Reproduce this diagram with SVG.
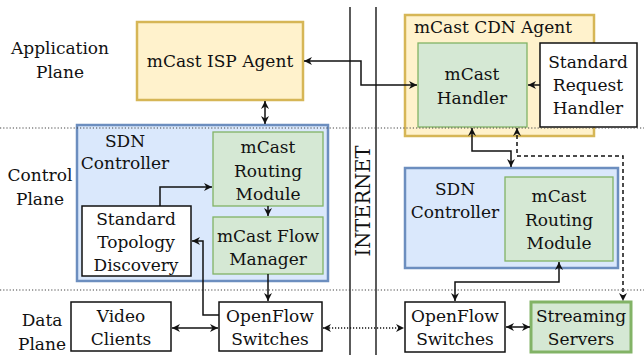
<svg xmlns="http://www.w3.org/2000/svg" width="644" height="358" viewBox="0 0 644 358">
<style>
text{font-family:"DejaVu Serif","Liberation Serif",serif;font-size:17px;fill:#111;text-anchor:middle;dominant-baseline:central}
.yel{fill:#fff2cc;stroke:#d6b656;stroke-width:2.5}
.blu{fill:#dae8fc;stroke:#6c8ebf;stroke-width:2.5}
.grn{fill:#d5e8d4;stroke:#82b366;stroke-width:1.3}
.grn2{fill:#d5e8d4;stroke:#82b366;stroke-width:3}
.wht{fill:#fff;stroke:#111;stroke-width:1.5}
.sep{stroke:#444;stroke-width:1.2;stroke-dasharray:1.2 2;fill:none}
.wall{stroke:#333;stroke-width:1.6;fill:none}
.c{stroke:#111;stroke-width:1.5;fill:none}
.cd{stroke:#111;stroke-width:1.5;fill:none;stroke-dasharray:4 3}
.cdot{stroke:#111;stroke-width:1.5;fill:none;stroke-dasharray:1.2 1.8}
</style>
<defs>
<marker id="a" viewBox="0 0 10 10" refX="10" refY="5" markerWidth="8" markerHeight="8" markerUnits="userSpaceOnUse" orient="auto-start-reverse"><path d="M0,0 L10,5 L0,10 L3,5 z" fill="#111"/></marker>
</defs>
<rect width="644" height="358" fill="#fff"/>
<g id="internet">
<line class="wall" x1="350" y1="7" x2="350" y2="355"/>
<line class="wall" x1="376" y1="7" x2="376" y2="355"/>
<text x="363" y="201" transform="rotate(-90 363 201)" style="font-size:19.5px">INTERNET</text>
</g>
<g id="labels">
<text x="60" y="48">Application</text><text x="60" y="72">Plane</text>
<text x="40" y="175">Control</text><text x="40" y="199">Plane</text>
<text x="42" y="320">Data</text><text x="42" y="344">Plane</text>
</g>
<g id="isp-agent"><rect class="yel" x="137" y="22" width="166" height="78"/><text x="220" y="61">mCast ISP Agent</text></g>
<g id="cdn-agent"><rect class="yel" x="405" y="15" width="189" height="121"/><text x="493" y="27">mCast CDN Agent</text></g>
<g id="mcast-handler"><rect class="grn" x="418" y="43" width="109" height="84"/><text x="472" y="74">mCast</text><text x="472" y="98">Handler</text></g>
<g id="std-request"><rect class="wht" x="540" y="43" width="97" height="84"/><text x="588" y="62">Standard</text><text x="588" y="85">Request</text><text x="588" y="108">Handler</text></g>
<g id="sdn-left"><rect class="blu" x="77" y="125" width="251" height="156"/><text x="125" y="141">SDN</text><text x="125" y="163">Controller</text></g>
<g id="routing-left"><rect class="grn" x="213" y="132" width="110" height="74"/><text x="268" y="147">mCast</text><text x="268" y="171">Routing</text><text x="268" y="194">Module</text></g>
<g id="flow-manager"><rect class="grn" x="213" y="217" width="110" height="57"/><text x="268" y="236">mCast Flow</text><text x="268" y="259">Manager</text></g>
<g id="topology"><rect class="wht" x="82" y="206" width="109" height="70"/><text x="136" y="219">Standard</text><text x="136" y="242">Topology</text><text x="136" y="265">Discovery</text></g>
<g id="sdn-right"><rect class="blu" x="405" y="168" width="213" height="100"/><text x="455" y="189">SDN</text><text x="455" y="212">Controller</text></g>
<g id="routing-right"><rect class="grn" x="505" y="177" width="108" height="84"/><text x="559" y="196">mCast</text><text x="559" y="220">Routing</text><text x="559" y="243">Module</text></g>
<g id="video-clients"><rect class="wht" x="71" y="302" width="100" height="49"/><text x="121" y="316">Video</text><text x="121" y="339">Clients</text></g>
<g id="ofs-left"><rect class="wht" x="219" y="302" width="103" height="49"/><text x="270" y="316">OpenFlow</text><text x="270" y="339">Switches</text></g>
<g id="ofs-right"><rect class="wht" x="405" y="302" width="100" height="50"/><text x="455" y="316">OpenFlow</text><text x="455" y="339">Switches</text></g>
<g id="streaming"><rect class="grn2" x="531" y="302" width="100" height="50"/><text x="581" y="316">Streaming</text><text x="581" y="339">Servers</text></g>
<g id="separators">
<line class="sep" x1="0" y1="128" x2="644" y2="128"/>
<line class="sep" x1="0" y1="290" x2="644" y2="290"/>
</g>
<g id="connectors">
<path class="c" d="M265,101 V124" marker-start="url(#a)" marker-end="url(#a)"/>
<path class="c" d="M304,61 H361 V85 H417" marker-start="url(#a)" marker-end="url(#a)"/>
<path class="c" d="M540,85 H528" marker-end="url(#a)"/>
<path class="c" d="M472,128 V151 H511 V167" marker-start="url(#a)" marker-end="url(#a)"/>
<path class="cd" d="M517,128 V156 H623 V301" marker-start="url(#a)" marker-end="url(#a)"/>
<path class="c" d="M160,206 V187 H212" marker-end="url(#a)"/>
<path class="c" d="M268,206 V216" marker-end="url(#a)"/>
<path class="c" d="M219,315 H203 V241 H192" marker-end="url(#a)"/>
<path class="c" d="M268,274 V301" marker-end="url(#a)"/>
<path class="c" d="M172,328 H218" marker-start="url(#a)" marker-end="url(#a)"/>
<path class="cdot" d="M323,328 H404" marker-start="url(#a)" marker-end="url(#a)"/>
<path class="c" d="M506,327 H530" marker-start="url(#a)" marker-end="url(#a)"/>
<path class="c" d="M559,262 V282 H455 V301" marker-start="url(#a)" marker-end="url(#a)"/>
</g>
</svg>
